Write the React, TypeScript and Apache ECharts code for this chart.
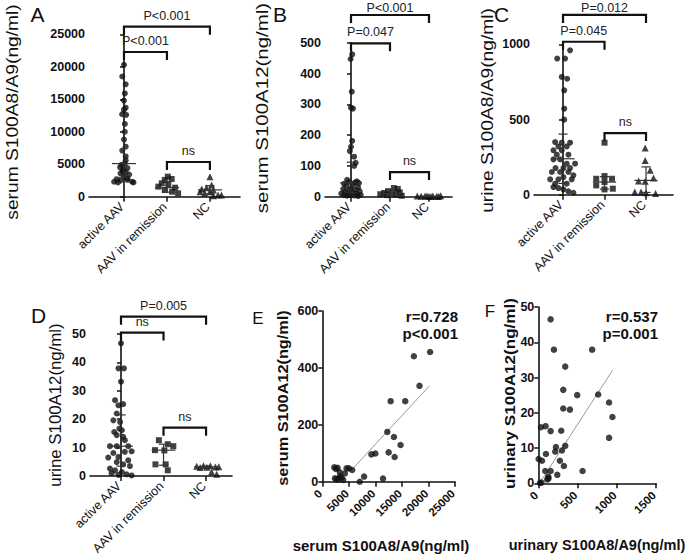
import React, { useEffect, useRef } from "react";
import * as echarts from "echarts";

const FONT = "'Liberation Sans', Arial, sans-serif";
const groups = ["active AAV", "AAV in remission", "NC"];

// ---------- Panel A: serum S100A8/A9 ----------
const aActiveVals = [20300, 18500, 17300, 15900, 14800, 13700, 13400, 12700, 12600, 11200, 10000, 8800, 7700, 7100, 6200, 5600, 5100, 4900, 4500, 4400, 4100, 3900, 3800, 3600, 3400, 3100, 2800, 2700, 2600, 2500, 2300, 2300, 2200, 2200];
const aActiveJit = [0, -0.04, 0.04, 0.02, 0, 0.04, 0, -0.04, 0.05, 0.02, 0.02, 0, 0.04, -0.04, 0.04, 0.04, 0.02, -0.06, -0.09, 0.08, -0.02, -0.03, 0.04, -0.08, 0.12, 0, 0.08, -0.17, 0.08, -0.08, 0.19, -0.23, -0.14, 0.22];
const aRemVals = [3090, 2580, 2730, 2060, 1800, 1550, 1390, 1030, 770, 515];
const aRemJit = [0.02, -0.05, 0.11, -0.12, 0.03, -0.2, 0.19, -0.05, 0.12, 0.26];
const aNcVals = [3090, 1800, 1390, 1180, 1030, 770, 770, 515, 260, 150, 260];
const aNcJit = [0, 0.04, -0.08, -0.19, 0.08, 0, -0.23, -0.12, 0.19, 0.08, 0.27];
const aStats = [[5100, 3000, 12600], [1400, 700, 2300], [1050, 400, 1700]]; // median, q1, q3
const aBrackets = [[0, 2, 26170], [0, 1, 22275], [1, 2, 5340]];
const aBracketLabels = ["P<0.001", "P<0.001", "ns"];

// ---------- Panel B: serum S100A12 ----------
const bActiveVals = [462, 447, 341, 289, 286, 181, 162, 148, 130, 110, 100, 55, 50, 48, 46, 44, 42, 40, 35, 30, 28, 25, 22, 20, 18, 15, 12, 10, 9, 8, 6, 5, 4, 3, 2];
const bActiveJit = [0.03, -0.01, 0.02, 0, 0.05, 0.03, 0, -0.03, 0.08, 0.12, 0.08, -0.1, 0.15, -0.05, 0.1, 0.2, -0.18, 0.05, -0.12, 0.18, 0, -0.2, 0.1, -0.06, 0.22, -0.15, 0.06, -0.25, 0.15, -0.05, 0.25, -0.18, 0.08, -0.1, 0.18];
const bRemVals = [28, 25, 18, 14, 12, 10, 8, 6, 5, 3];
const bRemJit = [0.1, 0.2, -0.05, 0.25, -0.15, 0.05, -0.25, 0.15, -0.08, 0.3];
const bNcVals = [2, 1.5, 2.5, 1, 2, 1.5, 3, 1, 2, 1];
const bNcJit = [-0.3, -0.2, -0.1, 0, 0.1, 0.2, 0.3, 0.05, -0.05, 0.25];
const bStats = [[45, 12, 112], [10, 5, 22], [1.5, 1, 2.5]];
const bBrackets = [[0, 2, 590], [0, 1, 498], [1, 2, 80]];
const bBracketLabels = ["P<0.001", "P=0.047", "ns"];

// ---------- Panel C: urine S100A8/A9 ----------
const cActiveVals = [960, 905, 905, 783, 771, 694, 572, 499, 350, 346, 346, 321, 321, 295, 295, 266, 266, 235, 235, 206, 206, 177, 177, 177, 151, 151, 151, 129, 117, 102, 102, 102, 73, 73, 51, 44, 35, 22, 13];
const cActiveJit = [0.17, -0.14, 0.05, -0.03, 0.1, 0.03, 0.03, 0.03, -0.19, -0.03, 0.17, -0.11, 0.09, -0.23, -0.03, -0.15, 0.13, -0.07, -0.23, 0.09, 0.29, -0.18, 0.01, 0.17, -0.27, -0.07, 0.13, 0.25, 0.01, -0.31, -0.11, 0.21, -0.19, 0.09, -0.23, -0.11, 0.01, 0.13, 0.25];
const cRemVals = [346, 124, 106, 106, 84, 62, 40, 35];
const cRemJit = [0, 0, 0.18, -0.2, 0, -0.2, 0.2, 0];
const cNcVals = [310, 228, 162, 111, 91, 89, 18, 18, 13, 8];
const cNcJit = [-0.02, -0.02, 0.1, 0.18, -0.18, -0.02, -0.27, -0.12, 0, 0.23];
const cStats = [[239, 75, 403], [84, 37, 120], [95, 15, 185]];
const cBrackets = [[0, 2, 1195], [0, 1, 1017], [1, 2, 410]];
const cBracketLabels = ["P=0.012", "P=0.045", "ns"];

// ---------- Panel D: urine S100A12 ----------
const dActiveVals = [46.7, 37.9, 37.9, 33.2, 26.7, 25.3, 24.9, 22.0, 19.6, 19.0, 16.7, 16.1, 15.5, 14.4, 13.8, 12.6, 10.5, 10.5, 10.5, 8.7, 8.5, 8.1, 6.7, 6.5, 5.5, 4.9, 4.1, 3.5, 2.6, 2.0, 1.4, 1.0, 0.6, 0.2, 0.4];
const dActiveJit = [0, -0.06, 0.07, 0, -0.14, 0.05, -0.06, -0.1, -0.18, -0.02, -0.04, 0.02, -0.16, -0.1, 0.05, 0.09, -0.26, -0.1, 0.17, 0.25, 0.09, -0.18, -0.06, -0.3, 0.17, -0.1, 0.05, 0.21, -0.26, -0.14, 0.02, -0.22, 0.13, 0.25, -0.06];
const dRemVals = [12.6, 11.2, 10.5, 9.1, 9.0, 4.1, 4.1, 2.0];
const dRemJit = [-0.11, 0.1, 0.23, -0.2, 0.02, -0.19, 0.05, 0.1];
const dNcVals = [3.4, 3.6, 3.6, 3.2, 3.0, 3.1, 1.4, 0.6, 3.3];
const dNcJit = [-0.22, -0.06, 0.1, 0.22, -0.14, 0.02, 0.13, 0.25, 0.3];
const dStats = [[10.5, 3.5, 21.5], [9.1, 3.8, 11.2], [3.2, 2.8, 3.5]];
const dBrackets = [[0, 2, 56.1], [0, 1, 50.5], [1, 2, 17.0]];
const dBracketLabels = ["P=0.005", "ns", "ns"];

// ---------- Panel E: serum correlation ----------
const ePoints = [[20310, 456], [17250, 441], [18310, 337], [12875, 283], [15625, 283], [12250, 175], [13500, 157], [14750, 129], [12500, 103], [13625, 87], [9250, 96], [10000, 99], [7875, 18], [7060, 0], [11440, 11], [2250, 51], [2875, 49], [2560, 45], [3310, 33], [4560, 47], [5000, 47], [5625, 41], [4250, 29], [2375, 12], [3000, 9], [3625, 14], [3940, 6], [3310, 18], [2700, 8]];
const eFitLine = [[5500, 41], [20200, 337]];
const eXTicks = [0, 5000, 10000, 15000, 20000, 25000];
const eStatsText = ["r=0.728", "p<0.001"];

// ---------- Panel F: urinary correlation ----------
const fPoints = [[157, 46.5], [199, 37.9], [686, 37.9], [343, 33.1], [318, 26.5], [496, 25.0], [763, 25.2], [902, 22.9], [945, 18.8], [902, 12.9], [318, 21.2], [403, 20.9], [34, 15.9], [93, 16.2], [157, 14.8], [292, 14.9], [225, 10.3], [343, 10.6], [216, 9.0], [301, 9.3], [4, 6.9], [47, 6.4], [97, 8.3], [275, 6.4], [326, 4.9], [564, 3.5], [89, 3.5], [157, 3.5], [242, 2.4], [127, 1.9], [114, 1.1], [130, 1.4], [21, 0.1], [40, 0.2]];
const fFitLine = [[15, 0], [945, 32]];
const fXTicks = [0, 500, 1000, 1500];
const fStatsText = ["r=0.537", "p=0.001"];

const INK = "#111";

function errorBarRender(params: any, api: any) {
  const x = api.value(0), med = api.value(1), q1 = api.value(2), q3 = api.value(3);
  const pm = api.coord([x, med]);
  const p1 = api.coord([x, q1]);
  const p3 = api.coord([x, q3]);
  const unit = api.coord([x + 1, med])[0] - pm[0];
  const mw = unit * 0.28, cw = unit * 0.11;
  const st = { stroke: "#333", lineWidth: 1.2 };
  return {
    type: "group",
    children: [
      { type: "line", shape: { x1: p1[0], y1: p1[1], x2: p3[0], y2: p3[1] }, style: st },
      { type: "line", shape: { x1: pm[0] - mw, y1: pm[1], x2: pm[0] + mw, y2: pm[1] }, style: st },
      { type: "line", shape: { x1: p1[0] - cw, y1: p1[1], x2: p1[0] + cw, y2: p1[1] }, style: st },
      { type: "line", shape: { x1: p3[0] - cw, y1: p3[1], x2: p3[0] + cw, y2: p3[1] }, style: st },
    ],
  };
}

function makeBracketRender(labels: string[]) {
  return (params: any, api: any) => {
    const a = api.coord([api.value(0), api.value(2)]);
    const b = api.coord([api.value(1), api.value(2)]);
    const leg = 8;
    return {
      type: "group",
      children: [
        {
          type: "polyline",
          shape: { points: [[a[0], a[1] + leg], [a[0], a[1]], [b[0], b[1]], [b[0], b[1] + leg]] },
          style: { stroke: INK, lineWidth: 2.2, fill: "none" },
        },
        {
          type: "text",
          x: (a[0] + b[0]) / 2,
          y: Math.max(a[1] - 11, 7.5),
          style: { text: labels[params.dataIndex], fontSize: 12.5, fontFamily: FONT, fill: "#222", align: "center", verticalAlign: "middle" },
        },
      ],
    };
  };
}

// rotated (45°) tick label drawn at an x value on the y = 0 baseline
function makeRotLabelRender(texts: string[], size: number, bold: boolean, drop: number) {
  return (params: any, api: any) => {
    const p = api.coord([api.value(0), 0]);
    return {
      type: "text",
      x: p[0] - 2,
      y: p[1] + drop,
      rotation: Math.PI / 4,
      style: { text: texts[params.dataIndex], fontSize: size, fontWeight: bold ? "bold" : "normal", fontFamily: FONT, fill: INK, align: "right", verticalAlign: "middle" },
    };
  };
}

const dotPanels = [
  { grid: { left: 89, top: 34.3, width: 151, height: 162.4 }, xMin: -0.814, xMax: 2.7, yMax: 25000, yInt: 5000,
    sets: [[aActiveVals, aActiveJit], [aRemVals, aRemJit], [aNcVals, aNcJit]], stats: aStats, brackets: aBrackets, labels: aBracketLabels },
  { grid: { left: 325, top: 42.7, width: 127, height: 154 }, xMin: -0.667, xMax: 2.59, yMax: 500, yInt: 100,
    sets: [[bActiveVals, bActiveJit], [bRemVals, bRemJit], [bNcVals, bNcJit]], stats: bStats, brackets: bBrackets, labels: bBracketLabels },
  { grid: { left: 534, top: 44.3, width: 139, height: 150.4 }, xMin: -0.699, xMax: 2.65, yMax: 1000, yInt: 500,
    sets: [[cActiveVals, cActiveJit], [cRemVals, cRemJit], [cNcVals, cNcJit]], stats: cStats, brackets: cBrackets, labels: cBracketLabels },
  { grid: { left: 90, top: 334, width: 142, height: 142 }, xMin: -0.729, xMax: 2.61, yMax: 50, yInt: 10,
    sets: [[dActiveVals, dActiveJit], [dRemVals, dRemJit], [dNcVals, dNcJit]], stats: dStats, brackets: dBrackets, labels: dBracketLabels },
];

const corrPanels = [
  { grid: { left: 322.3, top: 311, width: 132.7, height: 170.7 }, xMax: 25000, xInt: 5000, yMax: 600, yInt: 200, points: ePoints, fit: eFitLine, xTicks: eXTicks },
  { grid: { left: 538.3, top: 307, width: 117.7, height: 176.3 }, xMax: 1500, xInt: 500, yMax: 50, yInt: 10, points: fPoints, fit: fFitLine, xTicks: fXTicks },
];

const axisLineStyle = { show: true, lineStyle: { color: INK, width: 1.6 } };
const plain = (v: number) => String(v);

function yAxisCfg(gi: number, max: number, interval: number) {
  return {
    type: "value", gridIndex: gi, min: 0, max, interval,
    axisLine: axisLineStyle,
    axisTick: { show: true, length: 4, lineStyle: { color: INK, width: 1.5 } },
    axisLabel: { color: INK, fontSize: 12.5, fontWeight: "bold", fontFamily: FONT, margin: 4, formatter: plain },
    splitLine: { show: false },
  };
}

function buildOption() {
  const grid: any[] = [];
  const xAxis: any[] = [];
  const yAxis: any[] = [];
  const series: any[] = [];
  const shapes = ["circle", "rect", "triangle"];
  const sizes = [6, 6, 7];

  dotPanels.forEach((p, i) => {
    grid.push({ ...p.grid, containLabel: false });
    xAxis.push({
      type: "value", gridIndex: i, min: p.xMin, max: p.xMax,
      axisLine: axisLineStyle,
      axisTick: { show: true, customValues: [0, 1, 2], length: 5, lineStyle: { color: INK, width: 1.5 } },
      axisLabel: { show: false },
      splitLine: { show: false },
    });
    yAxis.push(yAxisCfg(i, p.yMax, p.yInt));
    p.sets.forEach(([vals, jit], g) => {
      series.push({
        type: "scatter", xAxisIndex: i, yAxisIndex: i, symbol: shapes[g], symbolSize: sizes[g],
        itemStyle: { color: INK }, z: 3,
        data: (vals as number[]).map((v, k) => [g + (jit as number[])[k], v]),
      });
    });
    series.push({
      type: "custom", xAxisIndex: i, yAxisIndex: i, renderItem: errorBarRender, z: 4, clip: false,
      encode: { x: 0, y: [1, 2, 3] },
      data: p.stats.map((s, g) => [g, s[0], s[1], s[2]]),
    });
    series.push({
      type: "custom", xAxisIndex: i, yAxisIndex: i, renderItem: makeBracketRender(p.labels), z: 5, clip: false,
      encode: { x: [0, 1], y: 2 },
      data: p.brackets,
    });
    series.push({
      type: "custom", xAxisIndex: i, yAxisIndex: i, renderItem: makeRotLabelRender(groups, 12.5, false, 8), z: 5, clip: false,
      encode: { x: 0, y: 1 },
      data: groups.map((_, g) => [g, 0]),
    });
  });

  corrPanels.forEach((p, j) => {
    const i = dotPanels.length + j;
    grid.push({ ...p.grid, containLabel: false });
    xAxis.push({
      type: "value", gridIndex: i, min: 0, max: p.xMax, interval: p.xInt,
      axisLine: axisLineStyle,
      axisTick: { show: true, length: 5, lineStyle: { color: INK, width: 1.5 } },
      axisLabel: { show: false },
      splitLine: { show: false },
    });
    yAxis.push(yAxisCfg(i, p.yMax, p.yInt));
    series.push({
      type: "scatter", xAxisIndex: i, yAxisIndex: i, symbol: "circle", symbolSize: 6.5,
      itemStyle: { color: INK }, z: 3, data: p.points,
    });
    series.push({
      type: "line", xAxisIndex: i, yAxisIndex: i, symbol: "none", z: 2,
      lineStyle: { color: "#999", width: 1 }, data: p.fit,
    });
    series.push({
      type: "custom", xAxisIndex: i, yAxisIndex: i, renderItem: makeRotLabelRender(p.xTicks.map(plain), 11.5, true, 10), z: 5, clip: false,
      encode: { x: 0, y: 1 },
      data: p.xTicks.map((t) => [t, 0]),
    });
  });

  const letter = (t: string, x: number, y: number, size: number) => ({
    type: "text", x, y,
    style: { text: t, fontSize: size, fontFamily: FONT, fill: INK, align: "center", verticalAlign: "middle" },
  });
  const vTitle = (t: string, x: number, y: number, size: number, scale: number, bold: boolean) => ({
    type: "text", x, y, rotation: Math.PI / 2, scaleX: scale,
    style: { text: t, fontSize: size, fontWeight: bold ? "bold" : "normal", fontFamily: FONT, fill: INK, align: "center", verticalAlign: "middle" },
  });
  const hText = (t: string, x: number, y: number, size: number, align: string) => ({
    type: "text", x, y,
    style: { text: t, fontSize: size, fontWeight: "bold", fontFamily: FONT, fill: INK, align, verticalAlign: "middle" },
  });

  const graphic = [
    letter("A", 37.5, 14.5, 21),
    letter("B", 280, 14, 21),
    letter("C", 501.5, 14.5, 21),
    letter("D", 38.5, 315.5, 21),
    letter("E", 258, 318, 17),
    letter("F", 490, 311, 17),
    vTitle("serum S100A8/A9(ng/ml)", 13, 112, 16, 1.2, false),
    vTitle("serum S100A12(ng/ml)", 262, 108, 16, 1.28, false),
    vTitle("urine S100A8/A9(ng/ml)", 488, 110.5, 16, 1.2, false),
    vTitle("urine S100A12(ng/ml)", 55.5, 405, 16, 1.05, false),
    vTitle("serum S100A12(ng/ml)", 282.5, 398, 15, 1.085, true),
    vTitle("urinary S100A12(ng/ml)", 509.5, 393.5, 15, 1.14, true),
    hText("serum S100A8/A9(ng/ml)", 381, 545, 15, "center"),
    hText("urinary S100A8/A9(ng/ml)", 597, 545, 14.5, "center"),
    hText(eStatsText[0], 458, 316, 15, "right"),
    hText(eStatsText[1], 458, 333, 15, "right"),
    hText(fStatsText[0], 658, 316, 15, "right"),
    hText(fStatsText[1], 658, 333, 15, "right"),
  ];

  return { animation: false, backgroundColor: "#fff", grid, xAxis, yAxis, series, graphic };
}

export default function App() {
  const ref = useRef<HTMLDivElement>(null);
  useEffect(() => {
    const chart = echarts.init(ref.current!, null, { renderer: "svg" });
    chart.setOption(buildOption() as any);
    return () => chart.dispose();
  }, []);
  return <div ref={ref} style={{ position: "absolute", left: 0, top: 0, width: 685, height: 556, background: "#fff" }} />;
}
